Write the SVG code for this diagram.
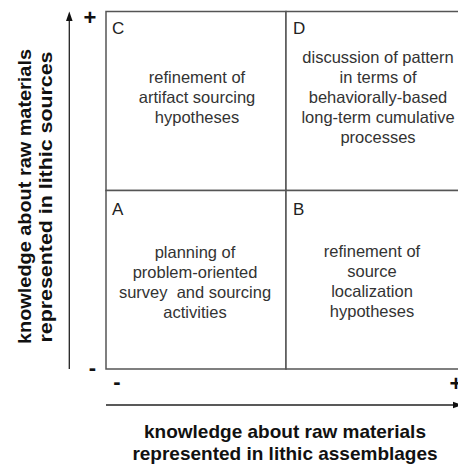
<svg xmlns="http://www.w3.org/2000/svg" width="458" height="464" viewBox="0 0 458 464">
<style>
.box{fill:#fff;stroke:#555;stroke-width:1.5}
.lbl{font-family:"Liberation Sans",Arial,sans-serif;font-size:17px;fill:#222}
.txt{font-family:"Liberation Sans",Arial,sans-serif;font-size:16.5px;fill:#333;text-anchor:middle;white-space:pre}
.axt{font-family:"Liberation Sans",Arial,sans-serif;font-size:19px;font-weight:bold;fill:#111;text-anchor:middle}
.sgn{font-family:"Liberation Sans",Arial,sans-serif;font-size:22px;font-weight:bold;fill:#111;text-anchor:middle}
.ax{stroke:#222;stroke-width:1.3;fill:none}
.head{fill:#111}
</style>
<rect width="458" height="464" fill="#fff"/>
<g id="quadC">
<rect class="box" x="106" y="11.5" width="180" height="179"/>
<text class="lbl" x="112" y="34">C</text>
<text class="txt"><tspan x="197" y="83">refinement of</tspan><tspan x="197" y="103">artifact sourcing</tspan><tspan x="197" y="123">hypotheses</tspan></text>
</g>
<g id="quadD">
<rect class="box" x="286" y="11.5" width="190" height="179"/>
<text class="lbl" x="293" y="34">D</text>
<text class="txt"><tspan x="378" y="63">discussion of pattern</tspan><tspan x="378" y="83">in terms of</tspan><tspan x="378" y="103">behaviorally-based</tspan><tspan x="378" y="123">long-term cumulative</tspan><tspan x="378" y="143">processes</tspan></text>
</g>
<g id="quadA">
<rect class="box" x="106" y="190.5" width="180" height="178.5"/>
<text class="lbl" x="112" y="215">A</text>
<text class="txt"><tspan x="195" y="258">planning of</tspan><tspan x="195" y="278">problem-oriented</tspan><tspan x="195" y="298">survey  and sourcing</tspan><tspan x="195" y="318">activities</tspan></text>
</g>
<g id="quadB">
<rect class="box" x="286" y="190.5" width="190" height="178.5"/>
<text class="lbl" x="293" y="215">B</text>
<text class="txt"><tspan x="372" y="257">refinement of</tspan><tspan x="372" y="277">source</tspan><tspan x="372" y="297">localization</tspan><tspan x="372" y="317">hypotheses</tspan></text>
</g>
<g id="connectors">
<line class="ax" x1="69.3" y1="20" x2="69.3" y2="369"/>
<polygon class="head" points="69.3,11.5 66,21 72.6,21"/>
<line class="ax" x1="106" y1="405" x2="455" y2="405"/>
<polygon class="head" points="462,405 453,401.7 453,408.3"/>
</g>
<g id="signs">
<text class="sgn" x="90" y="24.5">+</text>
<text class="sgn" x="92.5" y="375">-</text>
<text class="sgn" x="117" y="389">-</text>
<text class="sgn" x="456" y="391">+</text>
</g>
<g id="xlabel">
<text class="axt" x="285" y="438">knowledge about raw materials</text>
<text class="axt" x="285" y="460">represented in lithic assemblages</text>
</g>
<g id="ylabel">
<text class="axt" transform="translate(31,196.5) rotate(-90)" x="0" y="0" textLength="295" lengthAdjust="spacingAndGlyphs">knowledge about raw materials</text>
<text class="axt" transform="translate(52,197) rotate(-90)" x="0" y="0" textLength="291" lengthAdjust="spacingAndGlyphs">represented in lithic sources</text>
</g>
</svg>
